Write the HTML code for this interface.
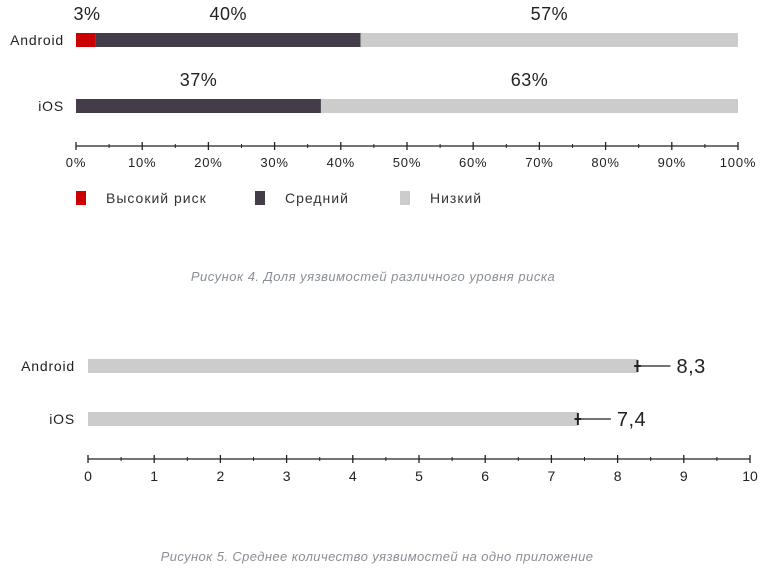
<!DOCTYPE html>
<html><head><meta charset="utf-8"><style>
body{margin:0;background:#fff;width:766px;height:572px;overflow:hidden;font-family:"Liberation Sans",sans-serif}
svg text{font-family:"Liberation Sans",sans-serif}
</style></head><body>
<svg width="766" height="572" viewBox="0 0 766 572">
<g id="c1"></g>
<g id="c2"></g>
<text x="373" y="281" text-anchor="middle" font-size="13" font-style="italic" fill="#8a8f96" letter-spacing="0.5">Рисунок 4. Доля уязвимостей различного уровня риска</text>
<text x="377" y="561" text-anchor="middle" font-size="13" font-style="italic" fill="#8a8f96" letter-spacing="0.4">Рисунок 5. Среднее количество уязвимостей на одно приложение</text>
</svg>
<script>
const platforms=["Android","iOS"];
const highVals=[3,0];
const midVals=[40,37];
const lowVals=[57,63];
const pctTicks=[0,10,20,30,40,50,60,70,80,90,100];
const avgVals=[8.3,7.4];
const avgErr=[0.05,0.05];
const avgLabels=["8,3","7,4"];
const numTicks=[0,1,2,3,4,5,6,7,8,9,10];
const NS="http://www.w3.org/2000/svg";
function mk(p,t,a){const e=document.createElementNS(NS,t);for(const k in a)e.setAttribute(k,a[k]);p.appendChild(e);return e;}
const g1=document.getElementById('c1');
const x1=v=>76+v*(738-76)/100;
const rowY1=[33,99];
const colors=["#cc0000","#453c4a","#cccccc"];
platforms.forEach((p,i)=>{
  const y=rowY1[i];
  const t=mk(g1,'text',{x:64,y:y+12,'text-anchor':'end','font-size':14,fill:'#222','letter-spacing':'0.8'});t.textContent=p;
  
  
  let acc=0;
  [highVals[i],midVals[i],lowVals[i]].forEach((v,j)=>{
    if(v<=0)return;
    const r=mk(g1,'rect',{x:x1(acc),y:y,width:x1(acc+v)-x1(acc),height:14,fill:colors[j]});
    
    
    const lx=j==0?x1(acc)+11:x1(acc+v/2);
    const l=mk(g1,'text',{x:lx,y:y-13,'text-anchor':'middle','font-size':18,fill:'#222','letter-spacing':'0.5'});l.textContent=v+'%';
    
    
    acc+=v;
  });
});
mk(g1,'line',{x1:x1(0),x2:x1(100),y1:146,y2:146,stroke:'#222','stroke-width':1.3});
pctTicks.forEach((v,k)=>{
  mk(g1,'line',{x1:x1(v),x2:x1(v),y1:142,y2:150,stroke:'#222','stroke-width':1.3});
  if(k<pctTicks.length-1){const m=(v+pctTicks[k+1])/2;mk(g1,'line',{x1:x1(m),x2:x1(m),y1:144,y2:148,stroke:'#222'});}
  const t=mk(g1,'text',{x:x1(v),y:167,'text-anchor':'middle','font-size':13,fill:'#222','letter-spacing':'0.8'});t.textContent=v+'%';
  
  
});
[["Высокий риск",76],["Средний",255],["Низкий",400]].forEach((e,j)=>{
  mk(g1,'rect',{x:e[1],y:191,width:10,height:14,fill:colors[j]});
  const t=mk(g1,'text',{x:e[1]+30,y:203,'font-size':14,fill:'#333','letter-spacing':'1'});t.textContent=e[0];
  
  
});
const g2=document.getElementById('c2');
const x2=v=>88+v*(750-88)/10;
const rowY2=[359,412];
platforms.forEach((p,i)=>{
  const y=rowY2[i];
  const t=mk(g2,'text',{x:75,y:y+12,'text-anchor':'end','font-size':14,fill:'#222','letter-spacing':'0.8'});t.textContent=p;
  
  
  const r=mk(g2,'rect',{x:x2(0),y:y,width:x2(avgVals[i])-x2(0),height:14,fill:'#cccccc'});
  
  
  const xe=x2(avgVals[i]);
  mk(g2,'line',{x1:x2(avgVals[i]-avgErr[i]),x2:x2(avgVals[i]+avgErr[i]),y1:y+7,y2:y+7,stroke:'#222','stroke-width':2});
  mk(g2,'line',{x1:xe,x2:xe,y1:y+1,y2:y+13,stroke:'#222','stroke-width':2});
  mk(g2,'line',{x1:xe,x2:xe+33,y1:y+7,y2:y+7,stroke:'#222','stroke-width':1.2});
  const l=mk(g2,'text',{x:xe+39,y:y+14,'font-size':20,fill:'#222','letter-spacing':'0.5'});l.textContent=avgLabels[i];
  
  
});
mk(g2,'line',{x1:x2(0),x2:x2(10),y1:459,y2:459,stroke:'#222','stroke-width':1.3});
numTicks.forEach((v,k)=>{
  mk(g2,'line',{x1:x2(v),x2:x2(v),y1:455,y2:463,stroke:'#222','stroke-width':1.3});
  if(k<numTicks.length-1){const m=v+0.5;mk(g2,'line',{x1:x2(m),x2:x2(m),y1:457,y2:461,stroke:'#222'});}
  const t=mk(g2,'text',{x:x2(v),y:481,'text-anchor':'middle','font-size':14,fill:'#222'});t.textContent=v;
  
  
});
</script>
</body></html>
